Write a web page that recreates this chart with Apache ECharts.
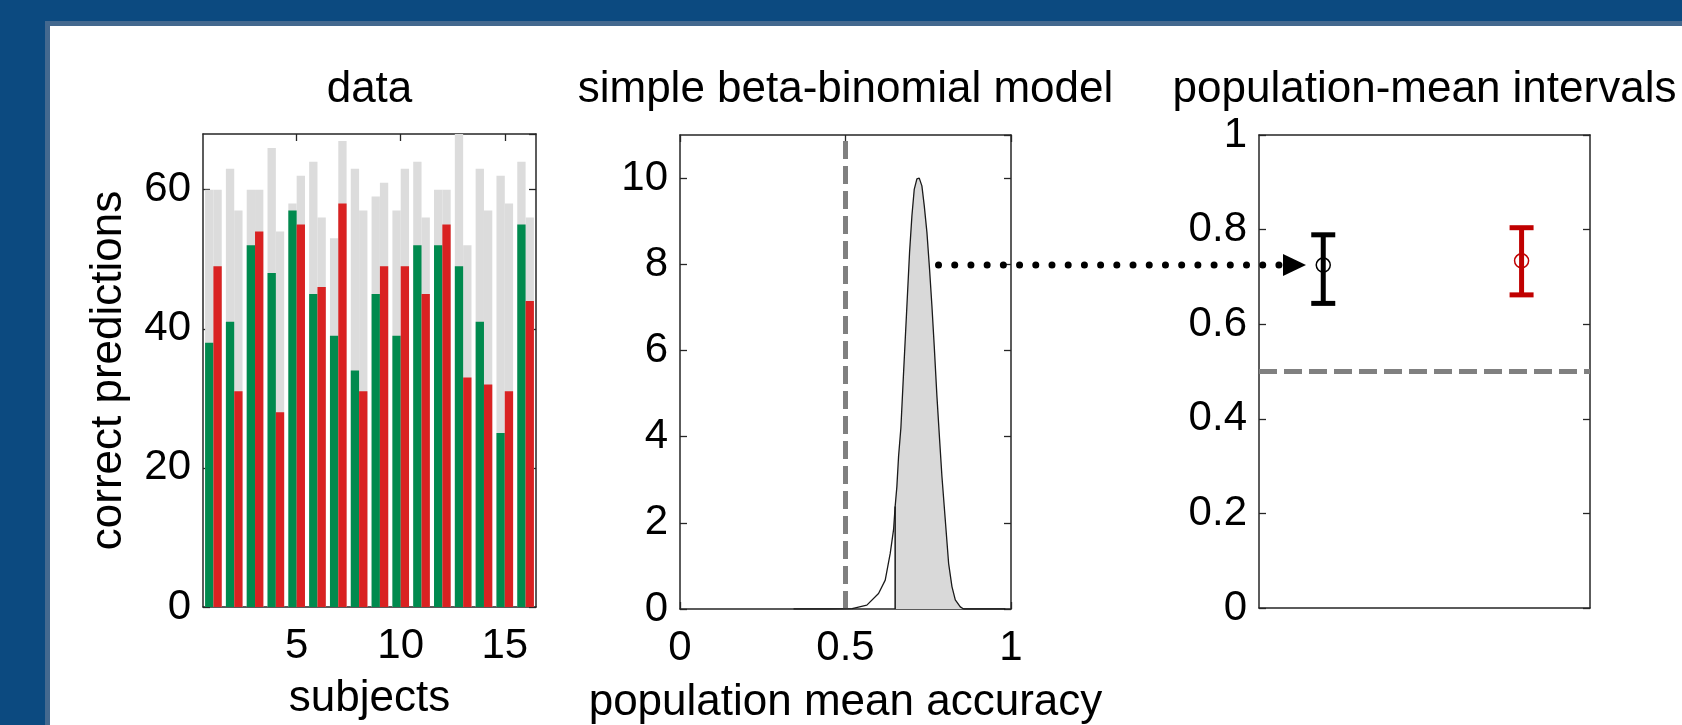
<!DOCTYPE html>
<html><head><meta charset="utf-8">
<script src="https://cdn.jsdelivr.net/npm/echarts@6/dist/echarts.min.js"></script>
<style>
html,body{margin:0;padding:0;width:1682px;height:725px;overflow:hidden;background:#0c4a80;}
#panel{position:absolute;left:45px;top:21px;right:0;bottom:0;background:#fff;border-left:5px solid #44698f;border-top:5px solid #44698f;}
#chart{position:absolute;left:0;top:0;width:1682px;height:725px;}
</style></head><body>
<div id="panel"></div><div id="chart"></div>
<script>
// ---------- data ----------
const subjects = ['1','2','3','4','5','6','7','8','9','10','11','12','13','14','15','16'];
const trialsA  = [60,63,60,66,58,64,53,63,59,57,64,60,68,63,62,64];
const trialsB  = [60,57,60,54,62,56,67,57,61,63,56,60,52,57,58,56];
const correctA = [38,41,52,48,57,45,39,34,45,39,52,52,49,41,25,55];
const correctB = [49,31,54,28,55,46,58,31,49,49,45,55,33,32,31,44];

const densityX = [0.343,0.45,0.52,0.5645,0.5998,0.62,0.6351,0.6452,0.65,0.6552,0.6603,0.6673,0.6754,0.6855,0.6935,0.7006,0.7077,0.7157,0.7228,0.7308,0.7379,0.746,0.754,0.7611,0.7681,0.7762,0.7843,0.7913,0.8014,0.8115,0.8216,0.8317,0.8468,0.8569,0.92,0.983];
const densityY = [0,0,0.01,0.09,0.36,0.67,1.29,1.84,2.38,2.84,3.54,4.2,5.48,7.03,8.27,9.12,9.74,9.98,10.0,9.82,9.36,8.74,7.88,7.03,6.1,4.94,3.93,3.08,2.07,1.06,0.52,0.21,0.05,0,0,0];
const ciLower = 0.65;
const chance = 0.5;

const intervalX    = [1, 2];
const intervalMean = [0.725, 0.734];
const intervalLo   = [0.644, 0.662];
const intervalHi   = [0.789, 0.804];
const intervalColor = ['#000000', '#c00000'];

const titles = ['data', 'simple beta-binomial model', 'population-mean intervals'];
// ---------- chart ----------
const FONT = 'Liberation Sans, Arial, Helvetica, sans-serif';
const AX = '#262626';
const TICK = 42, LAB = 44;
const gridBase = {containLabel:false, outerBoundsMode:'none'};
const grids = [
  Object.assign({left:203, top:134, width:333, height:473}, gridBase),
  Object.assign({left:680, top:135, width:331, height:474}, gridBase),
  Object.assign({left:1259, top:135, width:331, height:473}, gridBase)
];
const p3min = 0.676, p3max = 2.345;

const line = {show:true, onZero:false, lineStyle:{color:AX, width:1.5}};
const tick = {show:true, inside:true, length:7, lineStyle:{color:AX, width:1.3}};
const lbl = {color:'#000', fontSize:TICK, fontFamily:FONT};
const nameStyle = {color:'#000', fontSize:LAB, fontFamily:FONT};
const every5 = (i) => (i + 1) % 5 === 0;

const xAxis = [
  {type:'category', gridIndex:0, data:subjects, position:'bottom', axisLine:line,
   axisTick:Object.assign({}, tick, {alignWithLabel:true, interval:every5}),
   axisLabel:Object.assign({}, lbl, {interval:every5, margin:18}),
   name:'subjects', nameLocation:'middle', nameGap:70, nameTextStyle:nameStyle},
  {type:'category', gridIndex:0, data:subjects, position:'top', axisLine:line,
   axisTick:Object.assign({}, tick, {alignWithLabel:true, interval:every5}),
   axisLabel:{show:false}},
  {type:'value', gridIndex:1, min:0, max:1, interval:0.5, position:'bottom', axisLine:line, axisTick:tick,
   axisLabel:Object.assign({}, lbl, {margin:18}), splitLine:{show:false},
   name:'population mean accuracy', nameLocation:'middle', nameGap:72, nameTextStyle:nameStyle},
  {type:'value', gridIndex:1, min:0, max:1, interval:0.5, position:'top', axisLine:line, axisTick:tick,
   axisLabel:{show:false}, splitLine:{show:false}},
  {type:'value', gridIndex:2, min:p3min, max:p3max, position:'bottom', axisLine:line, axisTick:{show:false},
   axisLabel:{show:false}, splitLine:{show:false}},
  {type:'value', gridIndex:2, min:p3min, max:p3max, position:'top', axisLine:line, axisTick:{show:false},
   axisLabel:{show:false}, splitLine:{show:false}}
];
const yAxis = [
  {type:'value', gridIndex:0, min:0, max:68, interval:20, position:'left', axisLine:line, axisTick:tick,
   axisLabel:Object.assign({}, lbl, {margin:12, showMaxLabel:false}), splitLine:{show:false},
   name:'correct predictions', nameLocation:'middle', nameRotate:90, nameGap:72, nameTextStyle:nameStyle},
  {type:'value', gridIndex:0, min:0, max:68, interval:20, position:'right', axisLine:line, axisTick:tick,
   axisLabel:{show:false}, splitLine:{show:false}},
  {type:'value', gridIndex:1, min:0, max:11, interval:2, position:'left', axisLine:line, axisTick:tick,
   axisLabel:Object.assign({}, lbl, {margin:12, showMaxLabel:false}), splitLine:{show:false}},
  {type:'value', gridIndex:1, min:0, max:11, interval:2, position:'right', axisLine:line, axisTick:tick,
   axisLabel:{show:false}, splitLine:{show:false}},
  {type:'value', gridIndex:2, min:0, max:1, interval:0.2, position:'left', axisLine:line, axisTick:tick,
   axisLabel:Object.assign({}, lbl, {margin:12}), splitLine:{show:false}},
  {type:'value', gridIndex:2, min:0, max:1, interval:0.2, position:'right', axisLine:line, axisTick:tick,
   axisLabel:{show:false}, splitLine:{show:false}}
];

const barCommon = {type:'bar', barGap:'0%', barCategoryGap:'20%', silent:true, animation:false};
const curve = densityX.map((x, i) => [x, densityY[i]]);
const shaded = curve.filter(p => p[0] >= ciLower);
const ciTop = shaded[0][1];

const series = [
  Object.assign({}, barCommon, {xAxisIndex:1, yAxisIndex:0, data:trialsA, itemStyle:{color:'#dcdcdc'}}),
  Object.assign({}, barCommon, {xAxisIndex:1, yAxisIndex:0, data:trialsB, itemStyle:{color:'#dcdcdc'}}),
  Object.assign({}, barCommon, {xAxisIndex:0, yAxisIndex:0, data:correctA, itemStyle:{color:'#008a4e'}, z:3}),
  Object.assign({}, barCommon, {xAxisIndex:0, yAxisIndex:0, data:correctB, itemStyle:{color:'#d92222'}, z:3}),
  {type:'line', xAxisIndex:2, yAxisIndex:2, data:shaded, symbol:'none', silent:true, animation:false,
   lineStyle:{width:0}, areaStyle:{color:'#d9d9d9', opacity:1}, z:2},
  {type:'line', xAxisIndex:2, yAxisIndex:2, data:[[chance,0],[chance,11]], symbol:'none', silent:true, animation:false,
   lineStyle:{color:'#808080', width:5, type:[18,7]}, z:3},
  {type:'line', xAxisIndex:2, yAxisIndex:2, data:curve, symbol:'none', silent:true, animation:false,
   lineStyle:{color:'#1a1a1a', width:1.3}, z:4},
  {type:'line', xAxisIndex:2, yAxisIndex:2, data:[[ciLower,0],[ciLower,ciTop]], symbol:'none', silent:true, animation:false,
   lineStyle:{color:'#1a1a1a', width:1.5}, z:4},
  {type:'line', xAxisIndex:4, yAxisIndex:4, data:[[p3min,chance],[p3max,chance]], symbol:'none', silent:true, animation:false,
   lineStyle:{color:'#808080', width:5, type:[18,7]}, z:3},
  {type:'custom', xAxisIndex:4, yAxisIndex:4, silent:true, animation:false, z:5,
   data:intervalX.map((x,i) => [x, intervalMean[i], intervalLo[i], intervalHi[i], i]),
   renderItem:function(params, api){
     const x = api.value(0), c = intervalColor[api.value(4)];
     const pm = api.coord([x, api.value(1)]);
     const pl = api.coord([x, api.value(2)]);
     const ph = api.coord([x, api.value(3)]);
     const hw = 12, lw = 5;
     const st = {stroke:c, lineWidth:lw, fill:'none'};
     return {type:'group', children:[
       {type:'line', shape:{x1:pl[0], y1:pl[1], x2:ph[0], y2:ph[1]}, style:st},
       {type:'line', shape:{x1:pl[0]-hw, y1:pl[1], x2:pl[0]+hw, y2:pl[1]}, style:st},
       {type:'line', shape:{x1:ph[0]-hw, y1:ph[1], x2:ph[0]+hw, y2:ph[1]}, style:st},
       {type:'circle', shape:{cx:pm[0], cy:pm[1], r:7}, style:{stroke:c, lineWidth:1.5, fill:'none'}}
     ]};
   }}
];

const chart = echarts.init(document.getElementById('chart'), null, {renderer:'canvas'});
chart.setOption({animation:false, backgroundColor:'transparent', grid:grids, xAxis, yAxis, series});

// annotations: titles and dotted arrow
const arrowStartX = 0.781, arrowStartY = 8, arrowTipX = 0.913;
const tip = chart.convertToPixel({xAxisIndex:4, yAxisIndex:4}, [arrowTipX, intervalMean[0]]);
const st = chart.convertToPixel({xAxisIndex:2, yAxisIndex:2}, [arrowStartX, arrowStartY]);
const ay = tip[1];
const headL = 23, headH = 11;
const graphic = titles.map((t, i) => ({
  type:'text', x: grids[i].left + grids[i].width/2, y: 90,
  style:{text:t, fill:'#000', fontSize:LAB, fontFamily:FONT, textAlign:'center', textVerticalAlign:'middle'}
}));
graphic.push({type:'line', shape:{x1:st[0], y1:ay, x2:tip[0]-headL+3, y2:ay},
  style:{stroke:'#000', lineWidth:7, lineCap:'round', lineDash:[0.01, 16.2]}, z:10});
graphic.push({type:'polygon', shape:{points:[[tip[0]-headL, ay-headH],[tip[0], ay],[tip[0]-headL, ay+headH]]},
  style:{fill:'#000'}, z:10});
chart.setOption({graphic});
</script>
</body></html>
